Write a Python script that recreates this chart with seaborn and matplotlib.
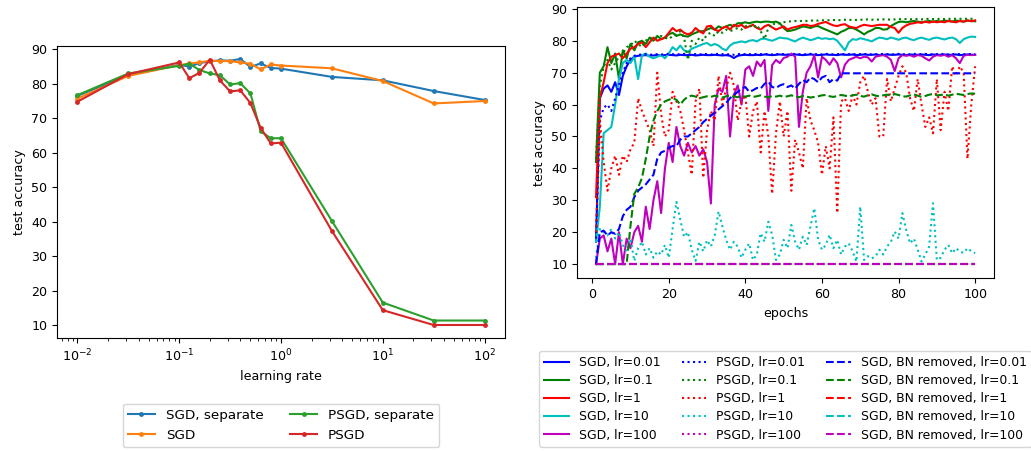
import matplotlib
matplotlib.use("Agg")

import numpy as np
import pandas as pd
import matplotlib.pyplot as plt
import seaborn as sns

plt.rcParams["font.size"] = 9.1

# ---------------------------------------------------------------------------
# Left panel: final test accuracy vs. learning rate
# ---------------------------------------------------------------------------
LEARNING_RATES = [0.01, 0.0316, 0.1, 0.126, 0.158, 0.2, 0.251, 0.316, 0.398,
                  0.501, 0.631, 0.794, 1.0, 3.16, 10, 31.6, 100]

SGD_SEPARATE = [76.5, 82.5, 85.5, 85.0, 86.0, 86.5, 86.8, 86.7, 87.2,
                84.9, 85.9, 84.6, 84.4, 82.0, 81.0, 77.9, 75.3]
SGD_JOINT = [75.7, 82.3, 85.4, 85.9, 86.2, 86.7, 86.6, 86.6, 86.2,
             85.8, 84.2, 85.6, 85.3, 84.5, 80.8, 74.3, 75.0]
PSGD_SEPARATE = [76.7, 83.0, 85.2, 85.8, 84.0, 83.0, 82.5, 79.8, 80.2,
                 77.2, 66.2, 64.2, 64.2, 40.2, 16.5, 11.3, 11.3]
PSGD_JOINT = [74.8, 82.8, 86.2, 81.6, 83.2, 87.0, 81.0, 77.8, 78.1,
              74.4, 67.2, 62.7, 62.9, 37.3, 14.3, 10.0, 10.0]

LEFT_LABELS = ["SGD, separate", "SGD", "PSGD, separate", "PSGD"]

# ---------------------------------------------------------------------------
# Right panel: test accuracy per epoch
# ---------------------------------------------------------------------------
EPOCHS = np.arange(1, 101)
LR_NAMES = ["0.01", "0.1", "1", "10", "100"]

SGD_LR001 = [17, 62, 65, 66, 64, 67, 63, 69, 72, 74,
             75, 75.3, 75.4, 75.5, 75.3, 75.4, 75.5, 75.4, 75.5, 75.6,
             75.5, 75.4, 75.6, 75.5, 75.5, 75.6, 75.4, 75.5, 75.6, 75.5,
             75.5, 75.6, 75.5, 75.4, 75.5, 75.3, 74.6, 75.3, 75.5, 75.6,
             75.5, 75.5, 75.6, 75.5, 75.7, 75.6, 75.5, 75.6, 75.7, 75.6,
             75.6, 75.5, 75.7, 75.6, 75.5, 75.6, 75.7, 75.6, 75.5, 75.6,
             75.7, 75.6, 75.6, 75.5, 75.7, 75.6, 75.6, 75.7, 75.5, 75.6,
             75.7, 75.6, 75.6, 75.7, 75.5, 75.6, 75.7, 75.6, 75.6, 75.7,
             75.6, 75.5, 75.7, 75.6, 75.6, 75.7, 75.6, 75.5, 75.7, 75.6,
             75.6, 75.7, 75.6, 75.6, 75.7, 75.5, 75.6, 75.7, 75.6, 75.6]
SGD_LR01 = [42, 70, 72, 78, 73, 76, 68, 77, 74.5, 79,
            77, 79.5, 80, 79, 81, 80, 81.5, 80.5, 81, 82,
            82.5, 81.5, 82, 81.5, 81.3, 82, 82.5, 83, 83, 83.5,
            84, 83.5, 84.5, 84, 84.5, 85, 84.5, 85.5, 85.5, 85.8,
            85.5, 85.8, 86, 85.8, 86, 86, 85.8, 86, 85.5, 84,
            83, 83.2, 83.5, 84, 84.5, 84.3, 84, 84.5, 84.6, 84,
            83.5, 83, 82.5, 82, 82.8, 83.3, 84, 84, 83.5, 82.8,
            82, 82.8, 83.3, 84, 84, 83.5, 83.6, 84.6, 85.3, 85.9,
            86, 85.8, 86, 86.2, 86, 85.8, 86, 86.2, 86, 86.2,
            86, 86.3, 86.2, 86, 86.3, 86.2, 86, 86.3, 86.2, 86.1]
SGD_LR1 = [31, 62, 67, 73, 75, 75.5, 76, 74.5, 76, 77.5,
           78, 79, 79.5, 78, 79.5, 81, 80, 80.5, 81, 82.5,
           84, 83, 83.5, 82.5, 82, 82.5, 84, 83, 82.3, 84.5,
           84.7, 83.5, 83, 84, 84.5, 83.5, 85, 84.5, 85, 84,
           84.5, 85, 84, 83.5, 84.5, 85, 84.2, 83.5, 84, 84.5,
           83.5, 84, 84.3, 84.6, 85, 85, 84.6, 84.8, 85.3, 85.6,
           85.9, 85.3, 84.8, 84.6, 85, 85.2, 84.5, 84.2, 84, 84.6,
           85, 84.8, 84.6, 84.8, 85, 85, 85, 84.3, 84, 82.5,
           84, 84.8, 85.3, 85.5, 85.8, 85.6, 86, 85.7, 86, 85.8,
           86, 85.8, 86.2, 86, 85.8, 86.2, 86, 86.4, 86.1, 86.4]
SGD_LR10 = [17, 28, 51, 52, 53, 60, 68, 73, 74, 73,
            75, 68, 75.5, 76, 75, 74.5, 75, 75.5, 74.5, 76,
            78, 77, 78.5, 77, 76.5, 77.5, 78, 78.5, 79, 79.3,
            78.5, 79, 78.5, 77.5, 77, 78.5, 79.3, 79.5, 79.8, 79.5,
            80, 80.2, 79.8, 80.5, 80.7, 80.3, 80, 80.5, 81, 80.8,
            80.7, 80.2, 79.8, 80.5, 81, 80.6, 80.2, 80.5, 81, 80.6,
            80.8, 80.5, 80.7, 80, 78.5, 77, 79.5, 80.5, 80.3, 80.8,
            80.5, 80.2, 79.8, 80.5, 81, 80.8, 80.5, 81, 80.7, 80.3,
            80.8, 81, 80.5, 80.2, 80.7, 81, 80.6, 80.3, 80.8, 81,
            80.7, 80.4, 80.8, 81, 80.5, 79.3, 80.5, 81, 81.3, 81.2]
SGD_LR100 = [10, 18, 19, 14, 18, 10, 20, 10, 18, 15,
             20, 22, 17, 28, 21, 30, 36, 26, 40, 48,
             42, 53, 47, 44, 48, 45, 47, 44, 46, 42,
             29, 60, 65, 64, 69, 50, 63, 66, 60, 71,
             72, 69, 73.5, 72, 74, 58, 72.4, 74, 73, 74.6,
             75, 76, 75, 53, 64, 70, 72, 75.5, 68.5, 75,
             74, 72.5, 74.5, 73, 68.5, 72.5, 74, 74.5, 75, 74.5,
             75, 74.8, 73.5, 75, 75.3, 75.5, 75, 74, 70.5, 74.5,
             75.5, 75.3, 75.5, 75, 75.5, 75.3, 74.5, 73.8, 75, 75.5,
             75.3, 75.6, 75, 75.5, 74.5, 73, 75.3, 75.6, 75.5, 75.6]

PSGD_LR001 = [18, 55, 59, 60, 58, 62, 66, 70, 73, 74.5,
              75.3, 75.6, 75.7, 75.8, 75.6, 75.7, 75.8, 75.7, 75.8, 75.9,
              75.8, 75.7, 75.8, 75.9, 75.7, 75.8, 75.8, 75.7, 75.9, 75.8,
              75.7, 75.8, 75.9, 75.8, 75.7, 75.8, 75.6, 75.8, 75.9, 75.8,
              75.8, 75.7, 75.9, 75.8, 75.8, 75.9, 75.7, 75.8, 75.9, 75.8,
              75.7, 75.8, 75.9, 75.8, 75.7, 75.8, 75.9, 75.8, 75.8, 75.7,
              75.9, 75.8, 75.7, 75.8, 75.9, 75.8, 75.8, 75.7, 75.9, 75.8,
              75.8, 75.9, 75.7, 75.8, 75.8, 75.9, 75.8, 75.7, 75.8, 75.9,
              75.8, 75.8, 75.7, 75.9, 75.8, 75.8, 75.9, 75.7, 75.8, 75.8,
              75.9, 75.8, 75.7, 75.8, 75.9, 75.8, 75.8, 75.7, 75.9, 75.8]
PSGD_LR01 = [43, 66, 72, 74, 71, 73, 75, 76, 78, 78.5,
             80, 79, 78, 80, 81, 80.5, 81, 81.5, 81, 80.5,
             81.5, 82, 83, 81, 74, 80, 79, 81, 80, 82,
             82.5, 81.5, 83, 82.5, 83.5, 83, 83.5, 84, 83.5, 84.5,
             85, 84, 85, 83, 80.5, 84, 85.5, 85, 85.5, 85.8,
             86.0, 86.1, 86.2, 86.1, 86.3, 86.2, 86.3, 86.4, 86.3, 86.4,
             86.5, 86.4, 86.5, 86.4, 86.5, 86.6, 86.5, 86.6, 86.5, 86.6,
             86.6, 86.7, 86.6, 86.7, 86.6, 86.7, 86.7, 86.6, 86.7, 86.8,
             86.7, 86.8, 86.7, 86.8, 86.8, 86.7, 86.8, 86.9, 86.8, 86.8,
             86.9, 86.8, 86.9, 86.8, 86.9, 86.9, 86.8, 86.9, 86.9, 86.8]
PSGD_LR1 = [20, 55, 42, 33, 40, 44, 38, 44, 42, 46,
            48, 62, 58, 55, 52, 47, 70, 57, 50, 52,
            64, 61, 58, 52, 45, 38, 61, 65, 37, 52,
            58, 55, 69, 60, 65, 70, 66, 55, 61, 63,
            50, 58, 61, 45, 58, 50, 32, 51, 61, 50,
            58, 33, 49, 45, 40, 62, 55, 52, 48, 38,
            47, 40, 56, 26, 61, 62, 58, 63, 60, 67,
            69, 64, 60, 62, 50, 50, 68, 61, 65, 69,
            72, 70, 62, 58, 68, 60, 53, 56, 51, 68,
            52, 64, 58, 72, 69, 72, 70, 43, 60, 72]
PSGD_LR10 = [12, 21, 20, 19, 21, 18, 20, 16, 14, 18,
             11, 15, 17, 13, 15, 12, 14, 13, 16, 12,
             21, 29.5, 24, 18.5, 20, 14.5, 11, 17, 14, 17.5,
             15.5, 19, 26.5, 21.8, 17.6, 14.5, 17, 15.5, 12, 14.5,
             16.5, 11.3, 13, 19.7, 17, 23.3, 19.2, 11.3, 13, 17.6,
             15, 22.3, 17, 14.5, 18.6, 16, 21.8, 27.5, 17.6, 14.5,
             16, 19.2, 15, 17.6, 13, 15.5, 16.5, 14, 10.8, 28,
             11.3, 12.5, 11.8, 12.4, 14.5, 13, 15.5, 17, 20.2, 18,
             26, 20.7, 16.5, 18, 14.5, 10.8, 13, 15.5, 29.1, 11.3,
             12, 14.5, 16, 13.4, 15, 14, 13.5, 15, 14, 13.4]
PSGD_LR100 = [10.0] * 100

BN_LR001 = [10, 20, 20.5, 19, 20, 19.5, 21, 25, 27, 28,
            31, 33, 34, 35, 36.5, 38, 43, 45, 45.5, 46.5,
            47, 47, 49, 50, 50, 51, 52, 53, 54.5, 55.5,
            56.5, 57.5, 58.5, 59.5, 60.5, 62, 63, 64, 65, 65.5,
            64, 64.5, 65.2, 65, 66.5, 67.2, 65.5, 65.2, 66, 66.4,
            65.5, 66, 65, 66.5, 67.7, 67, 68.5, 68, 67, 68.5,
            69, 67, 68, 67.5, 69.8, 69.8, 69.8, 69.8, 69.8, 69.8,
            69.8, 69.8, 69.8, 69.8, 69.8, 69.8, 69.8, 69.8, 69.8, 69.8,
            69.8, 69.8, 69.8, 69.8, 69.8, 69.8, 69.8, 69.8, 69.8, 69.8,
            69.8, 69.8, 69.8, 69.8, 69.8, 69.8, 69.8, 69.8, 69.8, 69.8]
BN_LR01 = [10, 10, 10, 10, 10, 10, 10, 10, 10, 22,
           32, 34, 37, 43, 50, 55, 58, 60, 61, 61.5,
           62, 61.5, 60, 61.5, 62.5, 62.8, 62.5, 62, 62.3, 62.6,
           62.4, 62.8, 62.5, 62.2, 62.6, 62.9, 62.5, 62.3, 62.7, 62.5,
           62.8, 62.4, 62.6, 62.9, 62.5, 62.3, 62.7, 62.5, 62.8, 62.4,
           62.6, 62.9, 62.5, 62.3, 62.7, 62.5, 62.2, 62.4, 62.6, 62.9,
           63.0, 62.6, 62.4, 62.7, 63.0, 62.8, 62.5, 62.9, 63.1, 62.7,
           62.5, 62.9, 63.2, 62.8, 62.6, 62.9, 63.1, 62.8, 63.3, 63.0,
           62.6, 62.5, 62.9, 63.2, 62.8, 62.4, 62.7, 63.1, 63.3, 62.9,
           63.0, 63.2, 62.8, 63.1, 63.4, 63.2, 63.0, 63.3, 63.5, 63.4]
BN_LR1 = [10.0] * 100
BN_LR10 = [10.0] * 100
BN_LR100 = [10.0] * 100

COLORS = ["b", "g", "r", "c", "m"]


def draw_lr_sweep(ax):
    """Final accuracy for each learning rate, log-scaled x axis."""
    for values, label in zip([SGD_SEPARATE, SGD_JOINT, PSGD_SEPARATE, PSGD_JOINT],
                             LEFT_LABELS):
        df = pd.DataFrame({"lr": LEARNING_RATES, "acc": values})
        sns.lineplot(data=df, x="lr", y="acc", ax=ax, marker=".",
                     markersize=7, markeredgewidth=0, label=label)
    ax.set_xscale("log")
    ax.set_xlabel("learning rate")
    ax.set_ylabel("test accuracy")
    ax.legend(loc="upper center", bbox_to_anchor=(0.5, -0.2), ncol=2,
              fontsize=9.7)


def draw_curves(ax):
    """Per-epoch accuracy: solid = SGD, dotted = PSGD, dashed = no BN."""
    groups = [
        ("SGD, lr={}", "-", [SGD_LR001, SGD_LR01, SGD_LR1, SGD_LR10, SGD_LR100]),
        ("PSGD, lr={}", ":", [PSGD_LR001, PSGD_LR01, PSGD_LR1, PSGD_LR10, PSGD_LR100]),
        ("SGD, BN removed, lr={}", "--", [BN_LR001, BN_LR01, BN_LR1, BN_LR10, BN_LR100]),
    ]
    for fmt, ls, series in groups:
        for values, lr, color in zip(series, LR_NAMES, COLORS):
            assert len(values) == len(EPOCHS)
            sns.lineplot(x=EPOCHS, y=values, ax=ax, color=color, linestyle=ls,
                         label=fmt.format(lr))
    ax.set_ylim(5.55, 90.5)
    ax.set_xlabel("epochs")
    ax.set_ylabel("test accuracy")
    ax.legend(loc="upper center", bbox_to_anchor=(0.5, -0.245), ncol=3,
              fontsize=8.9, labelspacing=0.42, columnspacing=1.7)


def main():
    fig = plt.figure(figsize=(10.31, 4.51), dpi=100)
    ax_left = fig.add_axes([0.0553, 0.2499, 0.4345, 0.6488])
    ax_right = fig.add_axes([0.5597, 0.3829, 0.4045, 0.601])
    draw_lr_sweep(ax_left)
    draw_curves(ax_right)
    fig.savefig("out.png", dpi=100)
    plt.close(fig)


if __name__ == "__main__":
    main()
